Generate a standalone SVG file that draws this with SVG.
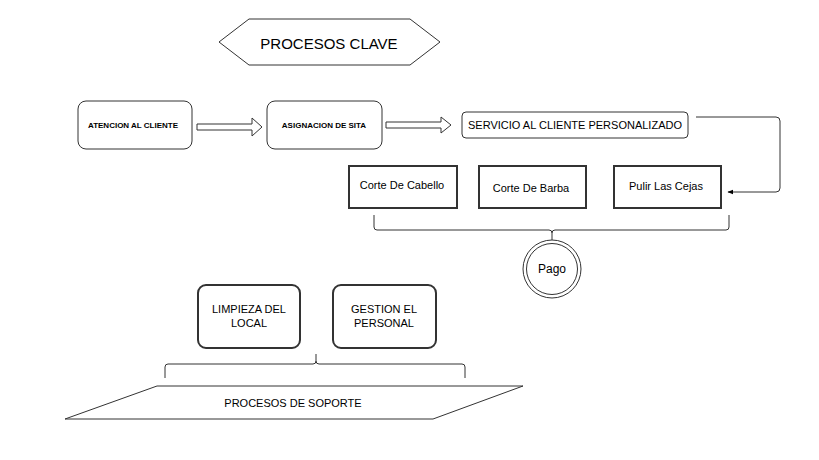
<svg xmlns="http://www.w3.org/2000/svg" width="819" height="460" viewBox="0 0 819 460">
<defs>
<style>
text{font-family:"Liberation Sans",Arial,sans-serif;fill:#000;text-anchor:middle;dominant-baseline:central}
.thin{fill:#fff;stroke:#333;stroke-width:1}
.thick{fill:#fff;stroke:#333;stroke-width:2}
.line{fill:none;stroke:#333;stroke-width:1}
.b{font-weight:bold;font-size:8px}
.t{font-size:11px}
</style>
<marker id="ah" viewBox="0 0 10 10" refX="9" refY="5" markerWidth="6" markerHeight="6" orient="auto-start-reverse">
<path d="M0,1 L10,5 L0,9 Z" fill="#000"/>
</marker>
</defs>
<rect width="819" height="460" fill="#fff"/>
<g id="procesos-clave">
<polygon class="thin" points="219,42 249,19 410,19 440,42 410,65 249,65"/>
<text x="329" y="43" style="font-size:15px">PROCESOS CLAVE</text>
</g>
<g id="atencion">
<rect class="thin" x="78" y="101" width="114" height="48" rx="8"/>
<text class="b" x="133" y="125">ATENCION AL CLIENTE</text>
</g>
<g id="asignacion">
<rect class="thin" x="267" y="101" width="115" height="48" rx="8"/>
<text class="b" x="324" y="125">ASIGNACION DE SITA</text>
</g>
<g id="servicio">
<rect class="thin" x="462" y="112" width="226" height="26" rx="4"/>
<text class="t" x="575" y="125">SERVICIO AL CLIENTE PERSONALIZADO</text>
</g>
<g id="corte-cabello">
<rect class="thick" x="349" y="166" width="108" height="42"/>
<text class="t" x="402" y="185">Corte De Cabello</text>
</g>
<g id="corte-barba">
<rect class="thick" x="479" y="166" width="107" height="42"/>
<text class="t" x="531" y="188">Corte De Barba</text>
</g>
<g id="pulir-cejas">
<rect class="thick" x="614" y="166" width="107" height="42"/>
<text class="t" x="666" y="186">Pulir Las Cejas</text>
</g>
<g id="pago">
<circle class="thin" cx="552" cy="269" r="29"/>
<circle class="thin" cx="552" cy="269" r="25.5"/>
<text x="552" y="269" style="font-size:12px">Pago</text>
</g>
<g id="limpieza">
<rect class="thick" x="198" y="285" width="102" height="63" rx="8"/>
<text class="t" x="249" y="309">LIMPIEZA DEL</text>
<text class="t" x="249" y="323">LOCAL</text>
</g>
<g id="gestion">
<rect class="thick" x="333" y="285" width="103" height="63" rx="8"/>
<text class="t" x="384" y="309">GESTION EL</text>
<text class="t" x="384" y="323">PERSONAL</text>
</g>
<g id="procesos-soporte">
<polygon class="thin" points="157,386 523,386 433,419 65,419"/>
<text class="t" x="293" y="403">PROCESOS DE SOPORTE</text>
</g>
<g id="connectors">
<polygon class="thin" points="197,124 252,124 252,118 262,127 252,136 252,130 197,130"/>
<polygon class="thin" points="386,122 441,122 441,117 451,125 441,133 441,128 386,128"/>
<path class="line" d="M696,117 L776,117 Q780,117 780,121 L780,188 Q780,192 776,192 L728,192" marker-end="url(#ah)"/>
<path class="line" d="M374,215 L374,227 Q374,230 377,230 L549,230 Q552,230 552,233 L552,240 M552,233 Q552,230 555,230 L726,230 Q729,230 729,227 L729,215"/>
<path class="line" d="M165,378 L165,367 Q165,364 168,364 L313,364 Q316,364 316,361 L316,354 M316,361 Q316,364 319,364 L462,364 Q465,364 465,367 L465,378"/>
</g>
</svg>
